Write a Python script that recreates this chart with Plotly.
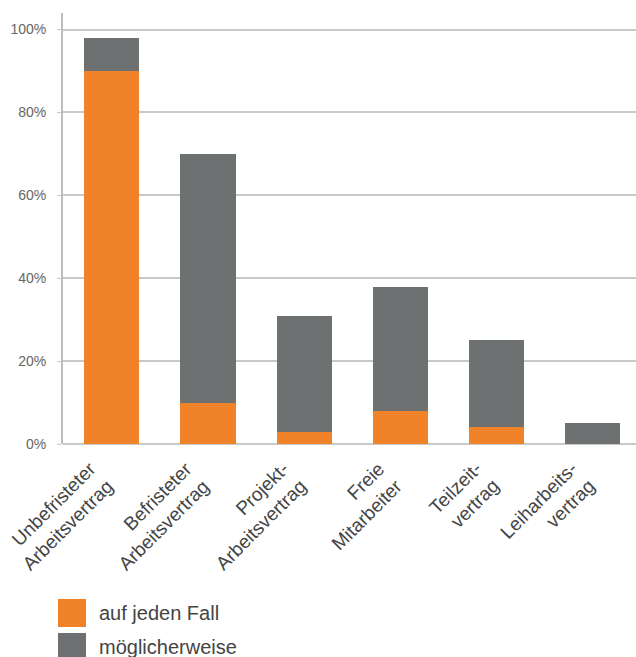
import plotly.graph_objects as go

# Beschäftigungsformen und Antworten (in Prozent)
categories = [
    "Unbefristeter<br>Arbeitsvertrag",
    "Befristeter<br>Arbeitsvertrag",
    "Projekt-<br>Arbeitsvertrag",
    "Freie<br>Mitarbeiter",
    "Teilzeit-<br>vertrag",
    "Leiharbeits-<br>vertrag",
]
auf_jeden_fall = [90, 10, 3, 8, 4, 0]
moeglicherweise = [8, 60, 28, 30, 21, 5]

series_names = ["auf jeden Fall", "möglicherweise"]
y_tickvals = [0, 20, 40, 60, 80, 100]
y_ticktext = ["0%", "20%", "40%", "60%", "80%", "100%"]

ORANGE = "#F0822A"
GREY = "#6E7172"
FONT = "Liberation Sans, Arial, sans-serif"

W, H = 636, 657
M_L, M_R, M_T, M_B = 63, 0, 13, 213

fig = go.Figure()
x_idx = list(range(len(categories)))
fig.add_trace(go.Bar(x=x_idx, y=auf_jeden_fall, name=series_names[0],
                     marker=dict(color=ORANGE, line=dict(width=0)), width=0.575))
fig.add_trace(go.Bar(x=x_idx, y=moeglicherweise, name=series_names[1],
                     marker=dict(color=GREY, line=dict(width=0)), width=0.575))

fig.update_layout(
    width=W, height=H,
    margin=dict(l=M_L, r=M_R, t=M_T, b=M_B),
    barmode="stack",
    plot_bgcolor="white", paper_bgcolor="white",
    showlegend=False,
    font=dict(family=FONT, color="#444"),
)
fig.update_xaxes(
    range=[-0.507, 5.449],
    showticklabels=False,
    showgrid=False, showline=False, ticks="", zeroline=False,
)
fig.update_yaxes(
    range=[0, 104],
    tickmode="array", tickvals=y_tickvals, ticktext=y_ticktext,
    tickfont=dict(size=14, color="#666"),
    ticklabelstandoff=8,
    showgrid=True, gridcolor="#c9c9c9", gridwidth=1.5,
    showline=True, linecolor="#bdbdbd", linewidth=2,
    ticks="outside", ticklen=4, tickcolor="#c9c9c9",
    zeroline=True, zerolinecolor="#c9c9c9", zerolinewidth=1.5,
)

# Pixelpositionen in Papierkoordinaten umrechnen
pw, ph = W - M_L - M_R, H - M_T - M_B
def px(x):
    return (x - M_L) / pw
def py(y):
    return (H - M_B - y) / ph

# Kategoriebeschriftungen: um 45° gedreht, rechtsbündig unter den Balken
for i, label in enumerate(categories):
    fig.add_annotation(xref="x", yref="paper", x=i, y=py(455),
                       text=label, showarrow=False, textangle=-45,
                       xanchor="right", yanchor="top", align="right",
                       xshift=9,
                       font=dict(size=19, color="#444", family=FONT))

# Legende unterhalb des Diagramms
for i, (name, col) in enumerate(zip(series_names, [ORANGE, GREY])):
    top = 599 + i * 34
    fig.add_shape(type="rect", xref="paper", yref="paper",
                  x0=px(58), x1=px(86), y0=py(top + 28), y1=py(top),
                  fillcolor=col, line=dict(width=0))
    fig.add_annotation(xref="paper", yref="paper", x=px(97), y=py(top + 14),
                       text=name, showarrow=False, xanchor="left", yanchor="middle",
                       font=dict(size=20, color="#444", family=FONT))

fig.write_html("out.html")
